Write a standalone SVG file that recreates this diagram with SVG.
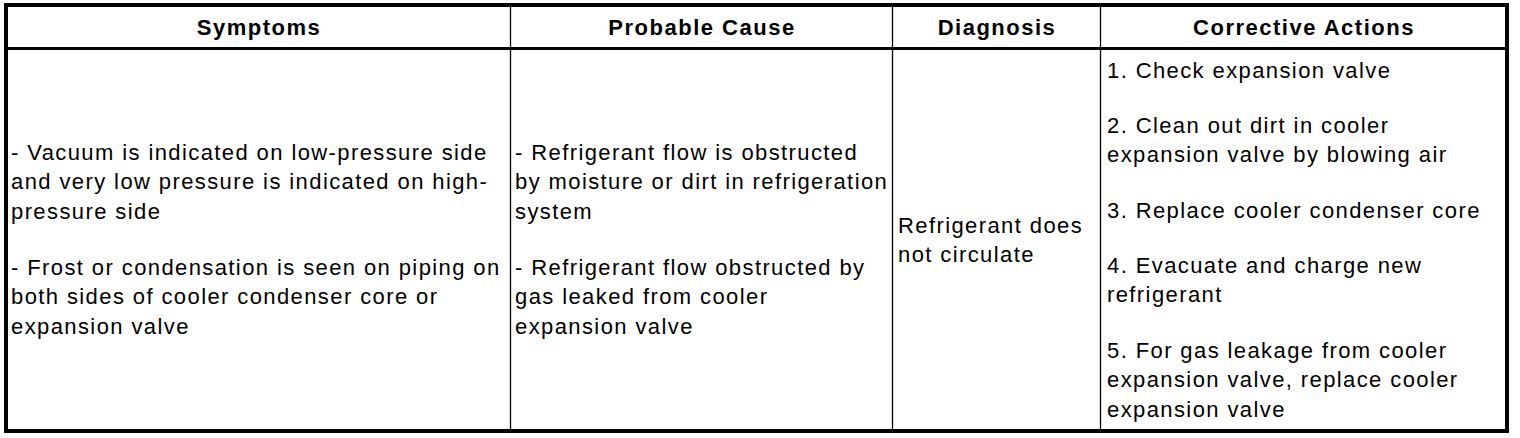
<svg xmlns="http://www.w3.org/2000/svg" width="1520" height="438" viewBox="0 0 1520 438">
<style>
.t{font-family:"Liberation Sans",Arial,sans-serif;font-size:22px;letter-spacing:1.4px;fill:#000}
.h{font-family:"Liberation Sans",Arial,sans-serif;font-size:22px;letter-spacing:1.5px;font-weight:bold;fill:#000;text-anchor:middle}
.thin{stroke:#000;stroke-width:1.3;fill:none}
</style>
<rect width="1520" height="438" fill="#fff"/>
<g id="grid">
<rect x="6" y="5" width="1501" height="426" fill="none" stroke="#000" stroke-width="4"/>
<line x1="6" y1="48.5" x2="1507" y2="48.5" stroke="#000" stroke-width="3"/>
<line class="thin" x1="510.5" y1="5" x2="510.5" y2="431"/>
<line class="thin" x1="892.5" y1="5" x2="892.5" y2="431"/>
<line class="thin" x1="1100.5" y1="5" x2="1100.5" y2="431"/>
</g>
<g id="header">
<text class="h" x="259" y="35">Symptoms</text>
<text class="h" x="702" y="35">Probable Cause</text>
<text class="h" x="997" y="35">Diagnosis</text>
<text class="h" x="1304" y="35">Corrective Actions</text>
</g>
<g id="symptoms">
<text class="t" x="11" y="160">- Vacuum is indicated on low-pressure side</text>
<text class="t" x="11" y="189">and very low pressure is indicated on high-</text>
<text class="t" x="11" y="219">pressure side</text>
<text class="t" x="11" y="275">- Frost or condensation is seen on piping on</text>
<text class="t" x="11" y="304">both sides of cooler condenser core or</text>
<text class="t" x="11" y="334">expansion valve</text>
</g>
<g id="cause">
<text class="t" x="515" y="160">- Refrigerant flow is obstructed</text>
<text class="t" x="515" y="189">by moisture or dirt in refrigeration</text>
<text class="t" x="515" y="219">system</text>
<text class="t" x="515" y="275">- Refrigerant flow obstructed by</text>
<text class="t" x="515" y="304">gas leaked from cooler</text>
<text class="t" x="515" y="334">expansion valve</text>
</g>
<g id="diagnosis">
<text class="t" x="898" y="233">Refrigerant does</text>
<text class="t" x="898" y="262">not circulate</text>
</g>
<g id="actions">
<text class="t" x="1107" y="78">1. Check expansion valve</text>
<text class="t" x="1107" y="133">2. Clean out dirt in cooler</text>
<text class="t" x="1107" y="162">expansion valve by blowing air</text>
<text class="t" x="1107" y="218">3. Replace cooler condenser core</text>
<text class="t" x="1107" y="273">4. Evacuate and charge new</text>
<text class="t" x="1107" y="302">refrigerant</text>
<text class="t" x="1107" y="358">5. For gas leakage from cooler</text>
<text class="t" x="1107" y="387">expansion valve, replace cooler</text>
<text class="t" x="1107" y="417">expansion valve</text>
</g>
</svg>
